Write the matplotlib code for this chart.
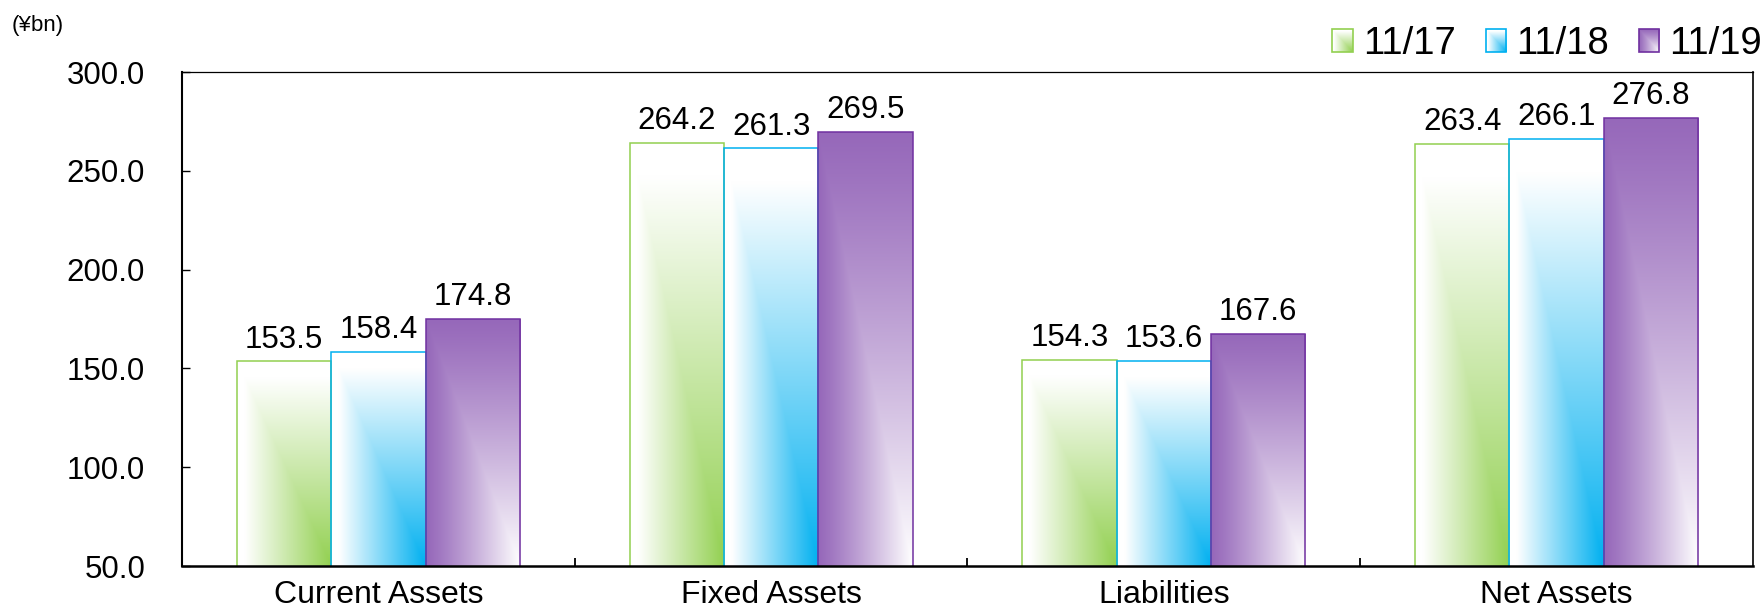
import numpy as np
import matplotlib
matplotlib.use("Agg")
import matplotlib.pyplot as plt
from matplotlib.patches import Rectangle
from matplotlib.legend_handler import HandlerBase
from matplotlib.image import BboxImage
from matplotlib.transforms import Bbox, TransformedBbox

plt.rcParams["font.family"] = ["Liberation Sans", "DejaVu Sans"]

# Balance sheet items (¥bn)
categories = ["Current Assets", "Fixed Assets", "Liabilities", "Net Assets"]
periods = ["11/17", "11/18", "11/19"]
values_1117 = [153.5, 264.2, 154.3, 263.4]
values_1118 = [158.4, 261.3, 153.6, 266.1]
values_1119 = [174.8, 269.5, 167.6, 276.8]
yticks = [50, 100, 150, 200, 250, 300]

green = np.array([146, 208, 80]) / 255
blue = np.array([0, 176, 240]) / 255
purple = np.array([150, 104, 186]) / 255
white = np.array([1.0, 1.0, 1.0])

edge_colors = ["#92D050", "#00B0F0", "#7030A0"]


def corner_param(n=300, m=120):
    # rectangular "path" gradient measured from the bottom-right corner
    u = np.linspace(0, 1, m)[None, :]
    v = np.linspace(0, 1, n)[:, None]
    return np.minimum(u, v)


def blend(color, f):
    return white[None, None, :] * (1 - f[..., None]) + color[None, None, :] * f[..., None]


def grad_rising(color, n=300, m=120):
    t = corner_param(n, m)
    f = np.clip((t - 0.08) / 0.92, 0, 1)
    return blend(color, f)


def grad_falling(color, n=300, m=120):
    t = corner_param(n, m)
    f = np.clip(1 - t ** 1.15, 0, 1)
    return blend(color, f)


gradients = [grad_rising(green), grad_rising(blue), grad_falling(purple)]
legend_grads = [grad_rising(green, 60, 60), grad_rising(blue, 60, 60),
                grad_falling(purple, 60, 60)]

fig = plt.figure(figsize=(17.65, 6.10), dpi=100)
ax = fig.add_axes([182 / 1765, 1 - 566 / 610, (1753 - 182) / 1765, (566 - 72) / 610])

x = np.arange(len(categories))
width = 0.24
series = [values_1117, values_1118, values_1119]
offsets = [-width, 0, width]

for vals, off, grad, ec, lab in zip(series, offsets, gradients, edge_colors, periods):
    bars = ax.bar(x + off, vals, width=width, bottom=0, facecolor="none",
                  edgecolor=ec, linewidth=1.1, zorder=3, label=lab)
    for rect, val in zip(bars, vals):
        x0 = rect.get_x()
        x1 = x0 + rect.get_width()
        y1 = rect.get_height()
        clip = Rectangle((x0, 0), rect.get_width(), y1, transform=ax.transData,
                         facecolor="none", edgecolor="none")
        im = ax.imshow(grad, extent=[x0, x1, 50, y1], origin="upper",
                       aspect="auto", interpolation="bilinear", zorder=2)
        im.set_clip_path(clip)
        ax.annotate(f"{val:.1f}", (x0 + rect.get_width() / 2, y1),
                    xytext=(0, 5), textcoords="offset points",
                    ha="center", va="bottom", fontsize=22.5, color="#000000",
                    zorder=5)

ax.set_xlim(-0.5, len(categories) - 0.5)
ax.set_ylim(50, 300)
ax.set_yticks(yticks)
ax.set_yticklabels([f"{t:.1f}" for t in yticks])
ax.set_xticks(x)
ax.set_xticklabels(categories)
ax.set_xticks(x[:-1] + 0.5, minor=True)

ax.tick_params(axis="y", direction="in", length=6, width=1, pad=26.5,
               labelsize=22.5, colors="#000000")
ax.tick_params(axis="x", which="major", length=0, pad=10, labelsize=23)
ax.tick_params(axis="x", which="minor", direction="in", length=6, width=1.3)

ax.spines["left"].set_linewidth(1.5)
ax.spines["bottom"].set_linewidth(1.8)
ax.spines["right"].set_linewidth(1.2)
ax.spines["top"].set_linewidth(0.9)
for s in ax.spines.values():
    s.set_zorder(6)


class GradientSquare(HandlerBase):
    def __init__(self, grad, edge):
        super().__init__()
        self.grad = grad
        self.edge = edge

    def create_artists(self, legend, orig_handle, xdescent, ydescent,
                       width, height, fontsize, trans):
        bb = TransformedBbox(Bbox.from_bounds(-xdescent, -ydescent, width, height), trans)
        img = BboxImage(bb, interpolation="bilinear")
        img.set_data(self.grad)
        frame = Rectangle((-xdescent, -ydescent), width, height, facecolor="none",
                          edgecolor=self.edge, linewidth=1.2, transform=trans)
        return [img, frame]


handles = [Rectangle((0, 0), 1, 1) for _ in periods]
handler_map = {h: GradientSquare(g, e) for h, g, e in zip(handles, legend_grads, edge_colors)}
fig.legend(handles, periods, handler_map=handler_map, ncol=3, frameon=False,
           loc="center right", bbox_to_anchor=(1762 / 1765, 1 - 44 / 610),
           fontsize=27.5, handlelength=0.53, handleheight=0.53,
           handletextpad=0.27, columnspacing=0.78, borderpad=0, borderaxespad=0)

fig.text(12 / 1765, 1 - 26 / 610, "(¥bn)", fontsize=16, ha="left", va="center")

fig.savefig("out.png", dpi=100)
